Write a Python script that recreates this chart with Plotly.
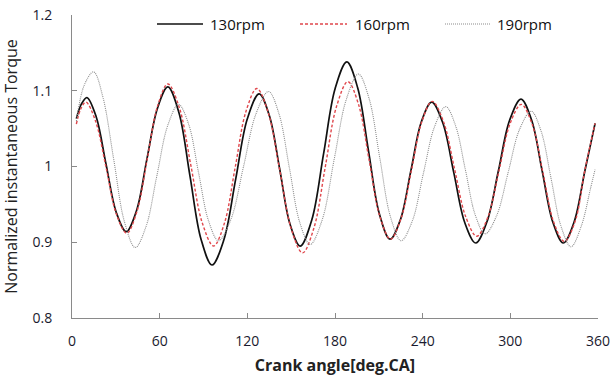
import plotly.graph_objects as go

# Crank angle (deg) and normalized torque
x_130 = [3, 6.3, 10.2, 16.5, 23.3, 30.2, 37.1, 44.2, 51.3, 58.5, 65.6, 73.2, 80.7, 88.3, 95.8,
         103.9, 112, 120, 128.1, 135.1, 142.2, 149.2, 156.2, 164.2, 172.2, 180.1, 188.1,
         195.5, 202.9, 210.3, 217.7, 224.8, 232, 239.1, 246.2, 253.7, 261.3, 268.8, 276.3,
         284, 291.8, 299.5, 307.3, 314.6, 321.8, 329, 336.3, 343.7, 351, 358]
y_130 = [1.063, 1.082, 1.091, 1.066, 1.003, 0.940, 0.914, 0.942, 1.010, 1.077, 1.105, 1.071, 0.988, 0.904, 0.870,
         0.903, 0.983, 1.063, 1.096, 1.067, 0.996, 0.924, 0.895, 0.930, 1.017, 1.103, 1.138,
         1.104, 1.021, 0.938, 0.904, 0.930, 0.995, 1.059, 1.085, 1.058, 0.992, 0.926, 0.899,
         0.927, 0.994, 1.061, 1.089, 1.061, 0.994, 0.927, 0.899, 0.927, 0.994, 1.057]

x_160 = [3, 6, 9.5, 16.1, 23.3, 30.4, 37.5, 44.5, 51.6, 58.6, 65.6, 73.4, 81.3, 89.1, 96.9,
         104.3, 111.7, 119.1, 126.5, 134.3, 142.2, 150, 157.8, 165.6, 173.3, 181, 188.8,
         196.1, 203.4, 210.7, 218, 225.1, 232.3, 239.4, 246.5, 254.1, 261.8, 269.4, 277,
         284.6, 292.3, 299.9, 307.5, 314.9, 322.3, 329.6, 337, 344.4, 351, 358]
y_160 = [1.056, 1.076, 1.085, 1.060, 0.999, 0.937, 0.912, 0.941, 1.011, 1.080, 1.109, 1.078, 1.002, 0.926, 0.895,
         0.925, 0.999, 1.073, 1.103, 1.071, 0.995, 0.918, 0.886, 0.919, 0.999, 1.079, 1.112,
         1.082, 1.008, 0.934, 0.904, 0.931, 0.995, 1.059, 1.086, 1.060, 0.997, 0.934, 0.908,
         0.933, 0.995, 1.057, 1.082, 1.056, 0.992, 0.927, 0.901, 0.928, 0.995, 1.057]

x_190 = [3, 8.5, 14.8, 21.1, 28.5, 35.9, 43.3, 50.7, 58.1, 65.5, 72.9, 79.8, 86.6, 93.5, 100.3,
         108.9, 117.4, 126, 134.5, 141.6, 148.8, 155.9, 163, 171.3, 179.5, 187.8, 196,
         203.3, 210.6, 217.9, 225.2, 232.9, 240.5, 248.2, 255.8, 262.5, 269.3, 276, 282.7,
         290.6, 298.5, 306.3, 314.2, 321, 327.9, 334.7, 341.5, 348.5, 355, 358]
y_190 = [1.060, 1.108, 1.125, 1.092, 1.010, 0.927, 0.893, 0.921, 0.988, 1.054, 1.082, 1.056, 0.992, 0.928, 0.902,
         0.931, 1.000, 1.070, 1.099, 1.070, 0.998, 0.926, 0.897, 0.930, 1.010, 1.089, 1.122,
         1.090, 1.012, 0.934, 0.902, 0.928, 0.991, 1.053, 1.079, 1.054, 0.995, 0.936, 0.911,
         0.935, 0.992, 1.049, 1.073, 1.047, 0.984, 0.921, 0.894, 0.921, 0.972, 0.996]

series_names = ["130rpm", "160rpm", "190rpm"]
x_ticks = [0, 60, 120, 180, 240, 300, 360]
y_ticks = [0.8, 0.9, 1.0, 1.1, 1.2]
y_ticktext = ["0.8", "0.9", "1", "1.1", "1.2"]

FONT = "Open Sans"
styles = [
    dict(color="#111111", width=1.7, dash="solid"),
    dict(color="#e0474c", width=1.4, dash="3px,2px"),
    dict(color="#8c8c8c", width=1.1, dash="1px,1px"),
]

fig = go.Figure()
for xs, ys, name, st in zip([x_130, x_160, x_190], [y_130, y_160, y_190], series_names, styles):
    fig.add_trace(go.Scatter(x=xs, y=ys, name=name, mode="lines", showlegend=False,
                             line=dict(color=st["color"], width=st["width"], dash=st["dash"],
                                       shape="spline", smoothing=1.0)))

# manual legend (line sample + label), placed like the reference
L, W = 72, 526
T, H = 15, 303
leg_px = [(157, 203, 208), (300, 347, 353), (445, 490, 495)]
leg_y = 1 - (24 - T) / H
for (x0, x1, xt), name, st in zip(leg_px, series_names, styles):
    fig.add_shape(type="line", xref="paper", yref="paper",
                  x0=(x0 - L) / W, x1=(x1 - L) / W, y0=leg_y, y1=leg_y,
                  line=dict(color=st["color"], width=st["width"], dash=st["dash"]))
    fig.add_annotation(xref="paper", yref="paper", x=(xt - L) / W, y=leg_y, text=name,
                       showarrow=False, xanchor="left", yanchor="middle",
                       font=dict(family=FONT, size=15, color="#111"))

axis_common = dict(showgrid=False, zeroline=False, showline=True, linecolor="#8a8a8a", linewidth=1,
                   ticks="inside", ticklen=5, tickcolor="#8a8a8a", automargin=False,
                   tickfont=dict(family=FONT, size=14, color="#1a1a2e"))

fig.update_xaxes(range=[0, 360], tickvals=x_ticks, ticklabelstandoff=10,
                 title=dict(text="<b>Crank angle[deg.CA]</b>", font=dict(family=FONT, size=16, color="#222")),
                 **axis_common)
fig.update_yaxes(range=[0.8, 1.2], tickvals=y_ticks, ticktext=y_ticktext,
                 ticklabelstandoff=16,
                 title=dict(text="Normalized instantaneous Torque", font=dict(family=FONT, size=16, color="#222")),
                 **axis_common)

fig.update_layout(
    width=611, height=376,
    margin=dict(l=72, r=13, t=15, b=58),
    paper_bgcolor="white", plot_bgcolor="white",
    font=dict(family=FONT),
    showlegend=False,
)

fig.write_html("out.html")
